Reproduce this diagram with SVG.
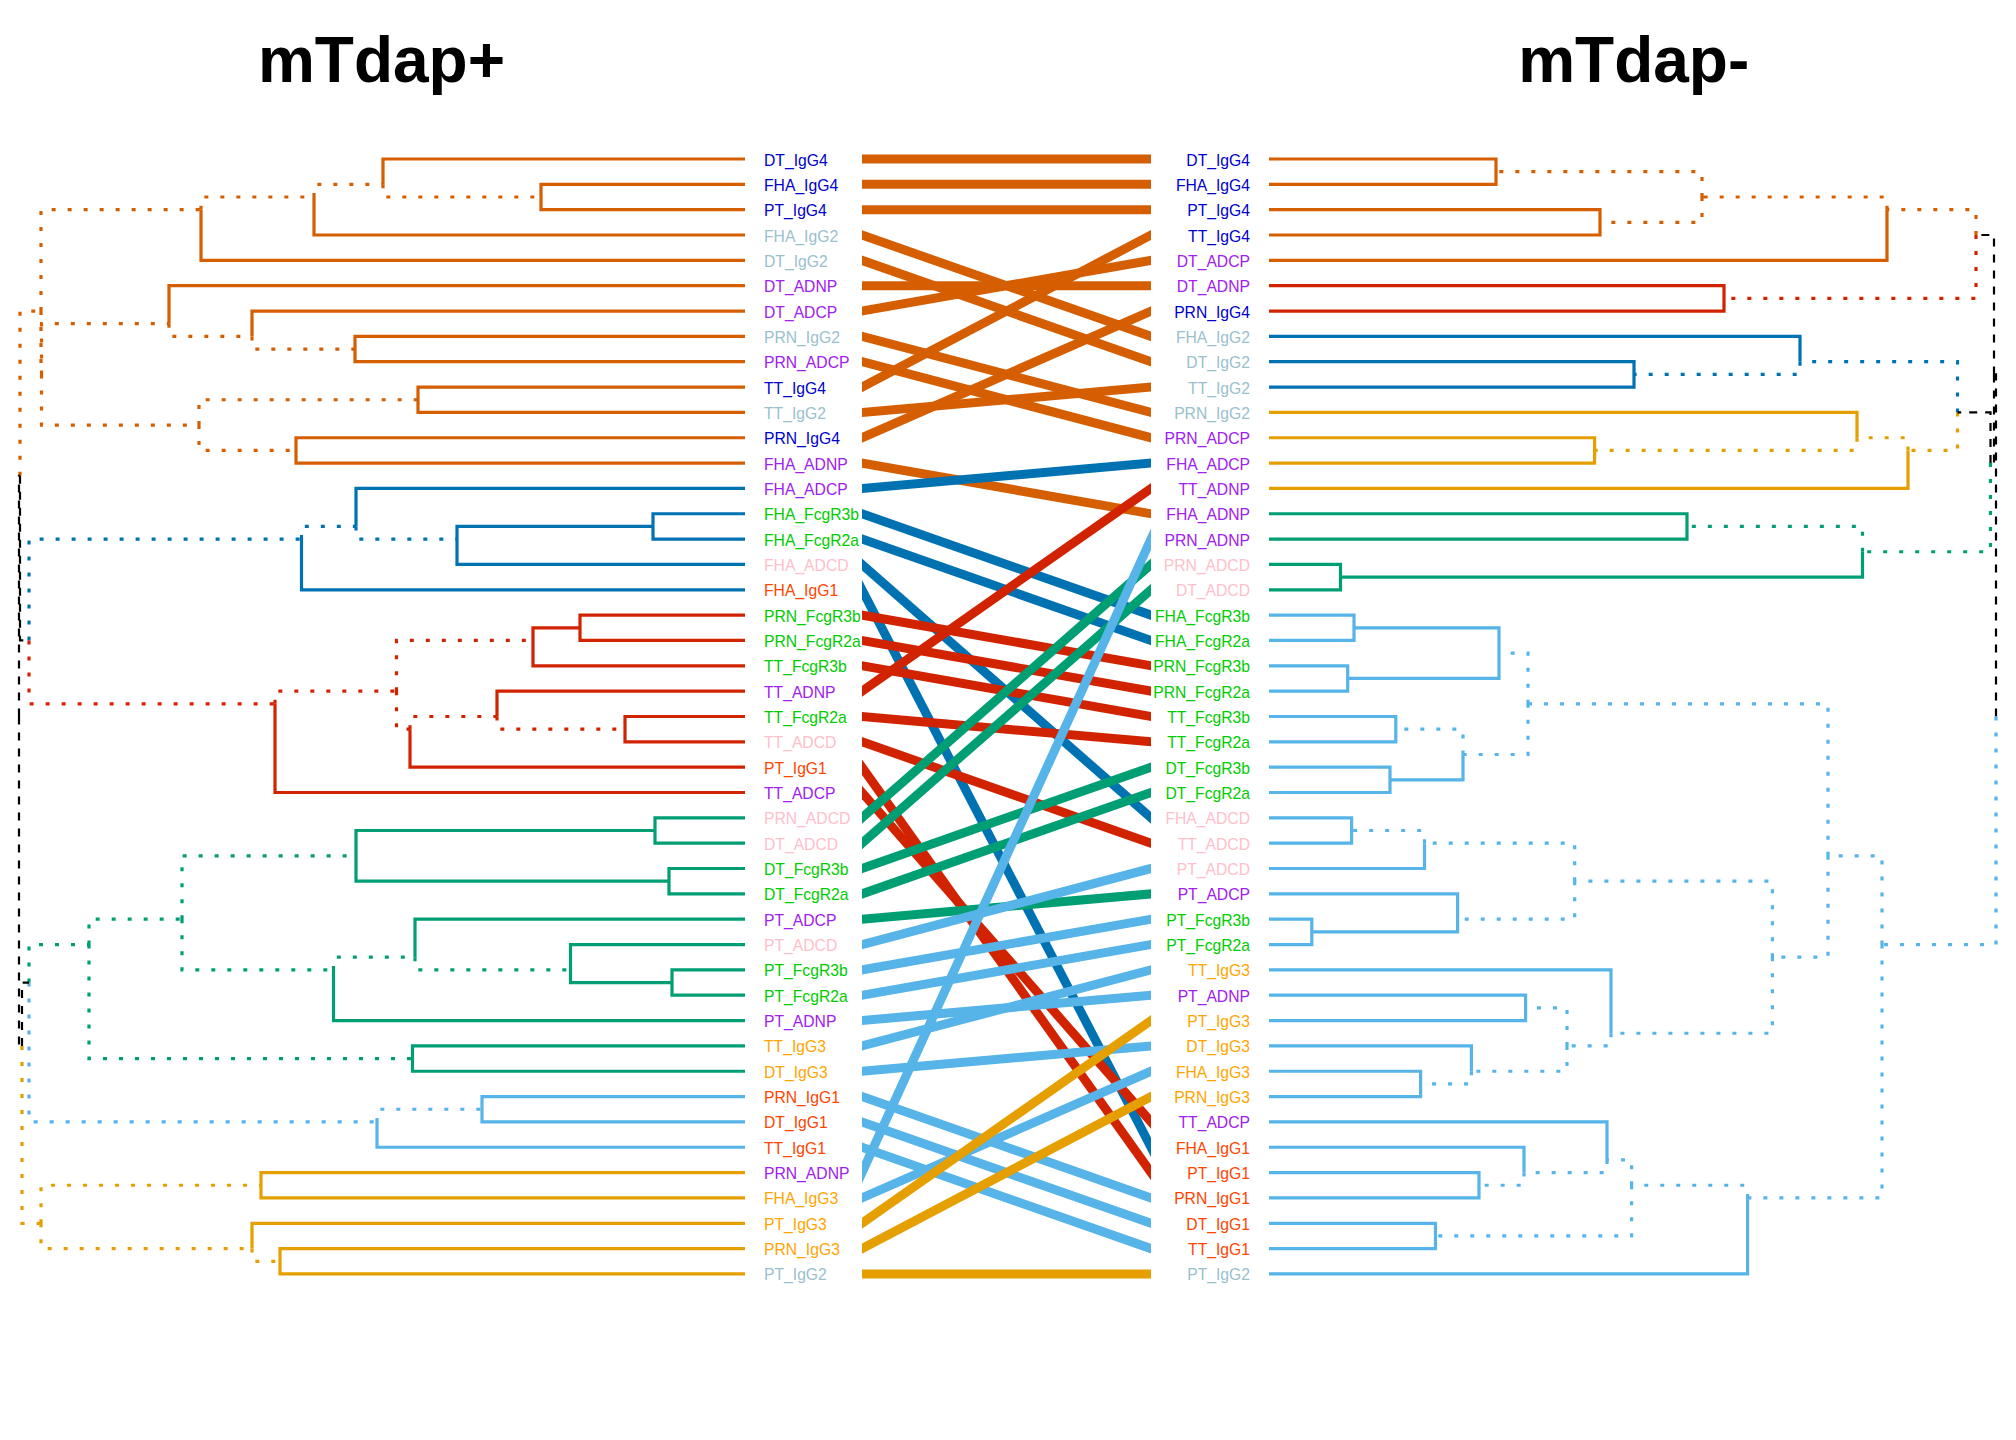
<svg xmlns="http://www.w3.org/2000/svg" width="2016" height="1440" viewBox="0 0 2016 1440">
<style>
.s{fill:none;stroke-width:3.2}
.d{fill:none;stroke-width:3.2;stroke-dasharray:4 12}
.k{fill:none;stroke:#000;stroke-width:2.2;stroke-dasharray:8 8}
.o{stroke:#D55E00}.b{stroke:#0072B2}.r{stroke:#D22300}.g{stroke:#009E73}.c{stroke:#56B4E9}.y{stroke:#E69F00}
.cn line{stroke-width:9;fill:none}
text{font-family:"Liberation Sans",Arial,sans-serif}
.ttl{font-size:64px;font-weight:bold;text-anchor:middle;fill:#000}
.lt{font-size:15.7px}
.rt{font-size:15.7px;text-anchor:end}
.i4{fill:#0000CD}.i2{fill:#9AC0CD}.pp{fill:#A020F0}.pk{fill:#FFC0CB}.fg{fill:#00CD00}.i1{fill:#FF4500}.i3{fill:#FFA500}
</style>
<defs><clipPath id="mid"><rect x="862" y="0" width="289" height="1440"/></clipPath></defs>
<rect width="2016" height="1440" fill="#fff"/>
<g id="titles">
<text class="ttl" x="381.5" y="82">mTdap+</text>
<text class="ttl" x="1633.7" y="82">mTdap-</text>
</g>
<g id="left-tree">
<path class="s o" d="M541 197.01V184.34H745M541 197.01V209.68H745M383 184.34V159H745M314 197.01V235.02H745M201 209.68V260.36H745M355 349.05V336.38H745M355 349.05V361.72H745M252 336.38V311.04H745M169 323.71V285.7H745M418 399.73V387.06H745M418 399.73V412.4H745M296 450.41V437.74H745M296 450.41V463.08H745"/>
<path class="d o" d="M383 184.34V197.01H541M314 197.01V184.34H383M201 209.68V197.01H314M252 336.38V349.05H355M169 323.71V336.38H252M199 425.07V399.73H418M199 425.07V450.41H296M41.5 374.39V323.71H169M41.5 374.39V425.07H199M41 311.04V209.68H201M41 311.04V374.39H41.5M20 475.75V311.04H41"/>
<path class="s b" d="M653 526.43V513.76H745M653 526.43V539.1H745M457 539.1V526.43H653M457 539.1V564.44H745M356 526.43V488.42H745M301.5 539.1V589.78H745"/>
<path class="d b" d="M356 526.43V539.1H457M301.5 539.1V526.43H356M29 640.46V539.1H301.5"/>
<path class="s r" d="M580 627.79V615.12H745M580 627.79V640.46H745M533 640.46V627.79H580M533 640.46V665.8H745M625 729.15V716.48H745M625 729.15V741.82H745M497 716.48V691.14H745M410 729.15V767.16H745M275 703.81V792.5H745"/>
<path class="d r" d="M497 716.48V729.15H625M410 729.15V716.48H497M396.5 691.14V640.46H533M396.5 691.14V729.15H410M275 703.81V691.14H396.5M29 640.46V703.81H275"/>
<path class="s g" d="M655 830.51V817.84H745M655 830.51V843.18H745M669 881.19V868.52H745M669 881.19V893.86H745M356 855.85V830.51H655M356 855.85V881.19H669M672 982.55V969.88H745M672 982.55V995.22H745M570.5 969.88V944.54H745M570.5 969.88V982.55H672M415 957.21V919.2H745M333.5 969.88V1020.56H745M412.5 1058.57V1045.9H745M412.5 1058.57V1071.24H745"/>
<path class="d g" d="M415 957.21V969.88H570.5M333.5 969.88V957.21H415M182 919.2V855.85H356M182 919.2V969.88H333.5M89 944.54V919.2H182M89 944.54V1058.57H412.5M29 982.55V944.54H89"/>
<path class="s c" d="M482 1109.25V1096.58H745M482 1109.25V1121.92H745M377 1121.92V1147.26H745"/>
<path class="d c" d="M377 1121.92V1109.25H482M29 982.55V1121.92H377"/>
<path class="s y" d="M261 1185.27V1172.6H745M261 1185.27V1197.94H745M280 1261.29V1248.62H745M280 1261.29V1273.96H745M252 1248.62V1223.28H745"/>
<path class="d y" d="M252 1248.62V1261.29H280M41 1223.28V1185.27H261M41 1223.28V1248.62H252M22 1045.9V1223.28H41"/>
<path class="k" d="M20 475.75V640.46H29M22 1045.9V982.55H29M19 716.48V475.75H20M19 716.48V1045.9H22"/>
</g>
<g id="right-tree">
<path class="s o" d="M1496 171.67V159H1269M1496 171.67V184.34H1269M1600 222.35V209.68H1269M1600 222.35V235.02H1269M1887 209.68V260.36H1269"/>
<path class="d o" d="M1702 197.01V171.67H1496M1702 197.01V222.35H1600M1887 209.68V197.01H1702M1976 235.02V209.68H1887"/>
<path class="s r" d="M1724 298.37V285.7H1269M1724 298.37V311.04H1269"/>
<path class="d r" d="M1976 235.02V298.37H1724"/>
<path class="s b" d="M1634 374.39V361.72H1269M1634 374.39V387.06H1269M1800 361.72V336.38H1269"/>
<path class="d b" d="M1800 361.72V374.39H1634M1957.5 412.4V361.72H1800"/>
<path class="s y" d="M1594.6 450.41V437.74H1269M1594.6 450.41V463.08H1269M1857 437.74V412.4H1269M1908 450.41V488.42H1269"/>
<path class="d y" d="M1857 437.74V450.41H1594.6M1908 450.41V437.74H1857M1957.5 412.4V450.41H1908"/>
<path class="s g" d="M1687 526.43V513.76H1269M1687 526.43V539.1H1269M1340.5 577.11V564.44H1269M1340.5 577.11V589.78H1269M1862.5 551.77V577.11H1340.5"/>
<path class="d g" d="M1862.5 551.77V526.43H1687M1990.5 463.08V551.77H1862.5"/>
<path class="k" d="M1990.5 463.08V412.4H1957.5M1994 374.39V235.02H1976M1994 374.39V463.08H1990.5M1996 716.48V374.39H1994"/>
<path class="s c" d="M1354 627.79V615.12H1269M1354 627.79V640.46H1269M1347.7 678.47V665.8H1269M1347.7 678.47V691.14H1269M1499 653.13V627.79H1354M1499 653.13V678.47H1347.7M1395.8 729.15V716.48H1269M1395.8 729.15V741.82H1269M1390 779.83V767.16H1269M1390 779.83V792.5H1269M1463 754.49V779.83H1390M1351.6 830.51V817.84H1269M1351.6 830.51V843.18H1269M1424.5 843.18V868.52H1269M1311.8 931.87V919.2H1269M1311.8 931.87V944.54H1269M1457.6 919.2V893.86H1269M1457.6 919.2V931.87H1311.8M1525.6 1007.89V995.22H1269M1525.6 1007.89V1020.56H1269M1420.6 1083.91V1071.24H1269M1420.6 1083.91V1096.58H1269M1471.4 1071.24V1045.9H1269M1611 1033.23V969.88H1269M1479 1185.27V1172.6H1269M1479 1185.27V1197.94H1269M1524 1172.6V1147.26H1269M1607 1159.93V1121.92H1269M1435.5 1235.95V1223.28H1269M1435.5 1235.95V1248.62H1269M1747.6 1197.94V1273.96H1269"/>
<path class="d c" d="M1463 754.49V729.15H1395.8M1528 703.81V653.13H1499M1528 703.81V754.49H1463M1424.5 843.18V830.51H1351.6M1574.7 881.19V843.18H1424.5M1574.7 881.19V919.2H1457.6M1471.4 1071.24V1083.91H1420.6M1567 1045.9V1007.89H1525.6M1567 1045.9V1071.24H1471.4M1611 1033.23V1045.9H1567M1772.4 957.21V881.19H1574.7M1772.4 957.21V1033.23H1611M1828 855.85V703.81H1528M1828 855.85V957.21H1772.4M1524 1172.6V1185.27H1479M1607 1159.93V1172.6H1524M1631.6 1185.27V1159.93H1607M1631.6 1185.27V1235.95H1435.5M1747.6 1197.94V1185.27H1631.6M1882 944.54V855.85H1828M1882 944.54V1197.94H1747.6M1996 716.48V944.54H1882"/>
</g>
<g id="connectors" class="cn" clip-path="url(#mid)">
<line class="o" x1="850" y1="159" x2="1163" y2="159"/>
<line class="o" x1="850" y1="184.34" x2="1163" y2="184.34"/>
<line class="o" x1="850" y1="209.68" x2="1163" y2="209.68"/>
<line class="o" x1="850" y1="230.81" x2="1163" y2="340.59"/>
<line class="o" x1="850" y1="256.15" x2="1163" y2="365.93"/>
<line class="o" x1="850" y1="285.7" x2="1163" y2="285.7"/>
<line class="o" x1="850" y1="313.14" x2="1163" y2="258.26"/>
<line class="o" x1="850" y1="333.22" x2="1163" y2="415.56"/>
<line class="o" x1="850" y1="358.56" x2="1163" y2="440.9"/>
<line class="o" x1="850" y1="393.37" x2="1163" y2="228.71"/>
<line class="o" x1="850" y1="413.45" x2="1163" y2="386.01"/>
<line class="o" x1="850" y1="443" x2="1163" y2="305.78"/>
<line class="o" x1="850" y1="460.98" x2="1163" y2="515.86"/>
<line class="b" x1="850" y1="489.47" x2="1163" y2="462.03"/>
<line class="b" x1="850" y1="509.55" x2="1163" y2="619.33"/>
<line class="b" x1="850" y1="534.89" x2="1163" y2="644.67"/>
<line class="b" x1="850" y1="553.92" x2="1163" y2="828.36"/>
<line class="b" x1="850" y1="566.64" x2="1163" y2="1170.4"/>
<line class="r" x1="850" y1="613.02" x2="1163" y2="667.9"/>
<line class="r" x1="850" y1="638.36" x2="1163" y2="693.24"/>
<line class="r" x1="850" y1="663.7" x2="1163" y2="718.58"/>
<line class="r" x1="850" y1="699.56" x2="1163" y2="480"/>
<line class="r" x1="850" y1="715.43" x2="1163" y2="742.87"/>
<line class="r" x1="850" y1="737.61" x2="1163" y2="847.39"/>
<line class="r" x1="850" y1="750.33" x2="1163" y2="1189.43"/>
<line class="r" x1="850" y1="778.82" x2="1163" y2="1135.6"/>
<line class="g" x1="850" y1="828.36" x2="1163" y2="553.92"/>
<line class="g" x1="850" y1="853.7" x2="1163" y2="579.26"/>
<line class="g" x1="850" y1="872.73" x2="1163" y2="762.95"/>
<line class="g" x1="850" y1="898.07" x2="1163" y2="788.29"/>
<line class="g" x1="850" y1="920.25" x2="1163" y2="892.81"/>
<line class="c" x1="850" y1="947.7" x2="1163" y2="865.36"/>
<line class="c" x1="850" y1="971.98" x2="1163" y2="917.1"/>
<line class="c" x1="850" y1="997.32" x2="1163" y2="942.44"/>
<line class="c" x1="850" y1="1021.61" x2="1163" y2="994.17"/>
<line class="c" x1="850" y1="1049.06" x2="1163" y2="966.72"/>
<line class="c" x1="850" y1="1072.29" x2="1163" y2="1044.85"/>
<line class="c" x1="850" y1="1092.37" x2="1163" y2="1202.15"/>
<line class="c" x1="850" y1="1117.71" x2="1163" y2="1227.49"/>
<line class="c" x1="850" y1="1143.05" x2="1163" y2="1252.83"/>
<line class="c" x1="850" y1="1198.9" x2="1163" y2="512.8"/>
<line class="c" x1="850" y1="1203.2" x2="1163" y2="1065.98"/>
<line class="y" x1="850" y1="1231.7" x2="1163" y2="1012.14"/>
<line class="y" x1="850" y1="1254.93" x2="1163" y2="1090.27"/>
<line class="y" x1="850" y1="1273.96" x2="1163" y2="1273.96"/>
</g>
<g id="left-labels">
<text class="lt i4" x="764" y="165.5">DT_IgG4</text>
<text class="lt i4" x="764" y="190.84">FHA_IgG4</text>
<text class="lt i4" x="764" y="216.18">PT_IgG4</text>
<text class="lt i2" x="764" y="241.52">FHA_IgG2</text>
<text class="lt i2" x="764" y="266.86">DT_IgG2</text>
<text class="lt pp" x="764" y="292.2">DT_ADNP</text>
<text class="lt pp" x="764" y="317.54">DT_ADCP</text>
<text class="lt i2" x="764" y="342.88">PRN_IgG2</text>
<text class="lt pp" x="764" y="368.22">PRN_ADCP</text>
<text class="lt i4" x="764" y="393.56">TT_IgG4</text>
<text class="lt i2" x="764" y="418.9">TT_IgG2</text>
<text class="lt i4" x="764" y="444.24">PRN_IgG4</text>
<text class="lt pp" x="764" y="469.58">FHA_ADNP</text>
<text class="lt pp" x="764" y="494.92">FHA_ADCP</text>
<text class="lt fg" x="764" y="520.26">FHA_FcgR3b</text>
<text class="lt fg" x="764" y="545.6">FHA_FcgR2a</text>
<text class="lt pk" x="764" y="570.94">FHA_ADCD</text>
<text class="lt i1" x="764" y="596.28">FHA_IgG1</text>
<text class="lt fg" x="764" y="621.62">PRN_FcgR3b</text>
<text class="lt fg" x="764" y="646.96">PRN_FcgR2a</text>
<text class="lt fg" x="764" y="672.3">TT_FcgR3b</text>
<text class="lt pp" x="764" y="697.64">TT_ADNP</text>
<text class="lt fg" x="764" y="722.98">TT_FcgR2a</text>
<text class="lt pk" x="764" y="748.32">TT_ADCD</text>
<text class="lt i1" x="764" y="773.66">PT_IgG1</text>
<text class="lt pp" x="764" y="799">TT_ADCP</text>
<text class="lt pk" x="764" y="824.34">PRN_ADCD</text>
<text class="lt pk" x="764" y="849.68">DT_ADCD</text>
<text class="lt fg" x="764" y="875.02">DT_FcgR3b</text>
<text class="lt fg" x="764" y="900.36">DT_FcgR2a</text>
<text class="lt pp" x="764" y="925.7">PT_ADCP</text>
<text class="lt pk" x="764" y="951.04">PT_ADCD</text>
<text class="lt fg" x="764" y="976.38">PT_FcgR3b</text>
<text class="lt fg" x="764" y="1001.72">PT_FcgR2a</text>
<text class="lt pp" x="764" y="1027.06">PT_ADNP</text>
<text class="lt i3" x="764" y="1052.4">TT_IgG3</text>
<text class="lt i3" x="764" y="1077.74">DT_IgG3</text>
<text class="lt i1" x="764" y="1103.08">PRN_IgG1</text>
<text class="lt i1" x="764" y="1128.42">DT_IgG1</text>
<text class="lt i1" x="764" y="1153.76">TT_IgG1</text>
<text class="lt pp" x="764" y="1179.1">PRN_ADNP</text>
<text class="lt i3" x="764" y="1204.44">FHA_IgG3</text>
<text class="lt i3" x="764" y="1229.78">PT_IgG3</text>
<text class="lt i3" x="764" y="1255.12">PRN_IgG3</text>
<text class="lt i2" x="764" y="1280.46">PT_IgG2</text>
</g>
<g id="right-labels">
<text class="rt i4" x="1250" y="165.5">DT_IgG4</text>
<text class="rt i4" x="1250" y="190.84">FHA_IgG4</text>
<text class="rt i4" x="1250" y="216.18">PT_IgG4</text>
<text class="rt i4" x="1250" y="241.52">TT_IgG4</text>
<text class="rt pp" x="1250" y="266.86">DT_ADCP</text>
<text class="rt pp" x="1250" y="292.2">DT_ADNP</text>
<text class="rt i4" x="1250" y="317.54">PRN_IgG4</text>
<text class="rt i2" x="1250" y="342.88">FHA_IgG2</text>
<text class="rt i2" x="1250" y="368.22">DT_IgG2</text>
<text class="rt i2" x="1250" y="393.56">TT_IgG2</text>
<text class="rt i2" x="1250" y="418.9">PRN_IgG2</text>
<text class="rt pp" x="1250" y="444.24">PRN_ADCP</text>
<text class="rt pp" x="1250" y="469.58">FHA_ADCP</text>
<text class="rt pp" x="1250" y="494.92">TT_ADNP</text>
<text class="rt pp" x="1250" y="520.26">FHA_ADNP</text>
<text class="rt pp" x="1250" y="545.6">PRN_ADNP</text>
<text class="rt pk" x="1250" y="570.94">PRN_ADCD</text>
<text class="rt pk" x="1250" y="596.28">DT_ADCD</text>
<text class="rt fg" x="1250" y="621.62">FHA_FcgR3b</text>
<text class="rt fg" x="1250" y="646.96">FHA_FcgR2a</text>
<text class="rt fg" x="1250" y="672.3">PRN_FcgR3b</text>
<text class="rt fg" x="1250" y="697.64">PRN_FcgR2a</text>
<text class="rt fg" x="1250" y="722.98">TT_FcgR3b</text>
<text class="rt fg" x="1250" y="748.32">TT_FcgR2a</text>
<text class="rt fg" x="1250" y="773.66">DT_FcgR3b</text>
<text class="rt fg" x="1250" y="799">DT_FcgR2a</text>
<text class="rt pk" x="1250" y="824.34">FHA_ADCD</text>
<text class="rt pk" x="1250" y="849.68">TT_ADCD</text>
<text class="rt pk" x="1250" y="875.02">PT_ADCD</text>
<text class="rt pp" x="1250" y="900.36">PT_ADCP</text>
<text class="rt fg" x="1250" y="925.7">PT_FcgR3b</text>
<text class="rt fg" x="1250" y="951.04">PT_FcgR2a</text>
<text class="rt i3" x="1250" y="976.38">TT_IgG3</text>
<text class="rt pp" x="1250" y="1001.72">PT_ADNP</text>
<text class="rt i3" x="1250" y="1027.06">PT_IgG3</text>
<text class="rt i3" x="1250" y="1052.4">DT_IgG3</text>
<text class="rt i3" x="1250" y="1077.74">FHA_IgG3</text>
<text class="rt i3" x="1250" y="1103.08">PRN_IgG3</text>
<text class="rt pp" x="1250" y="1128.42">TT_ADCP</text>
<text class="rt i1" x="1250" y="1153.76">FHA_IgG1</text>
<text class="rt i1" x="1250" y="1179.1">PT_IgG1</text>
<text class="rt i1" x="1250" y="1204.44">PRN_IgG1</text>
<text class="rt i1" x="1250" y="1229.78">DT_IgG1</text>
<text class="rt i1" x="1250" y="1255.12">TT_IgG1</text>
<text class="rt i2" x="1250" y="1280.46">PT_IgG2</text>
</g>
</svg>
